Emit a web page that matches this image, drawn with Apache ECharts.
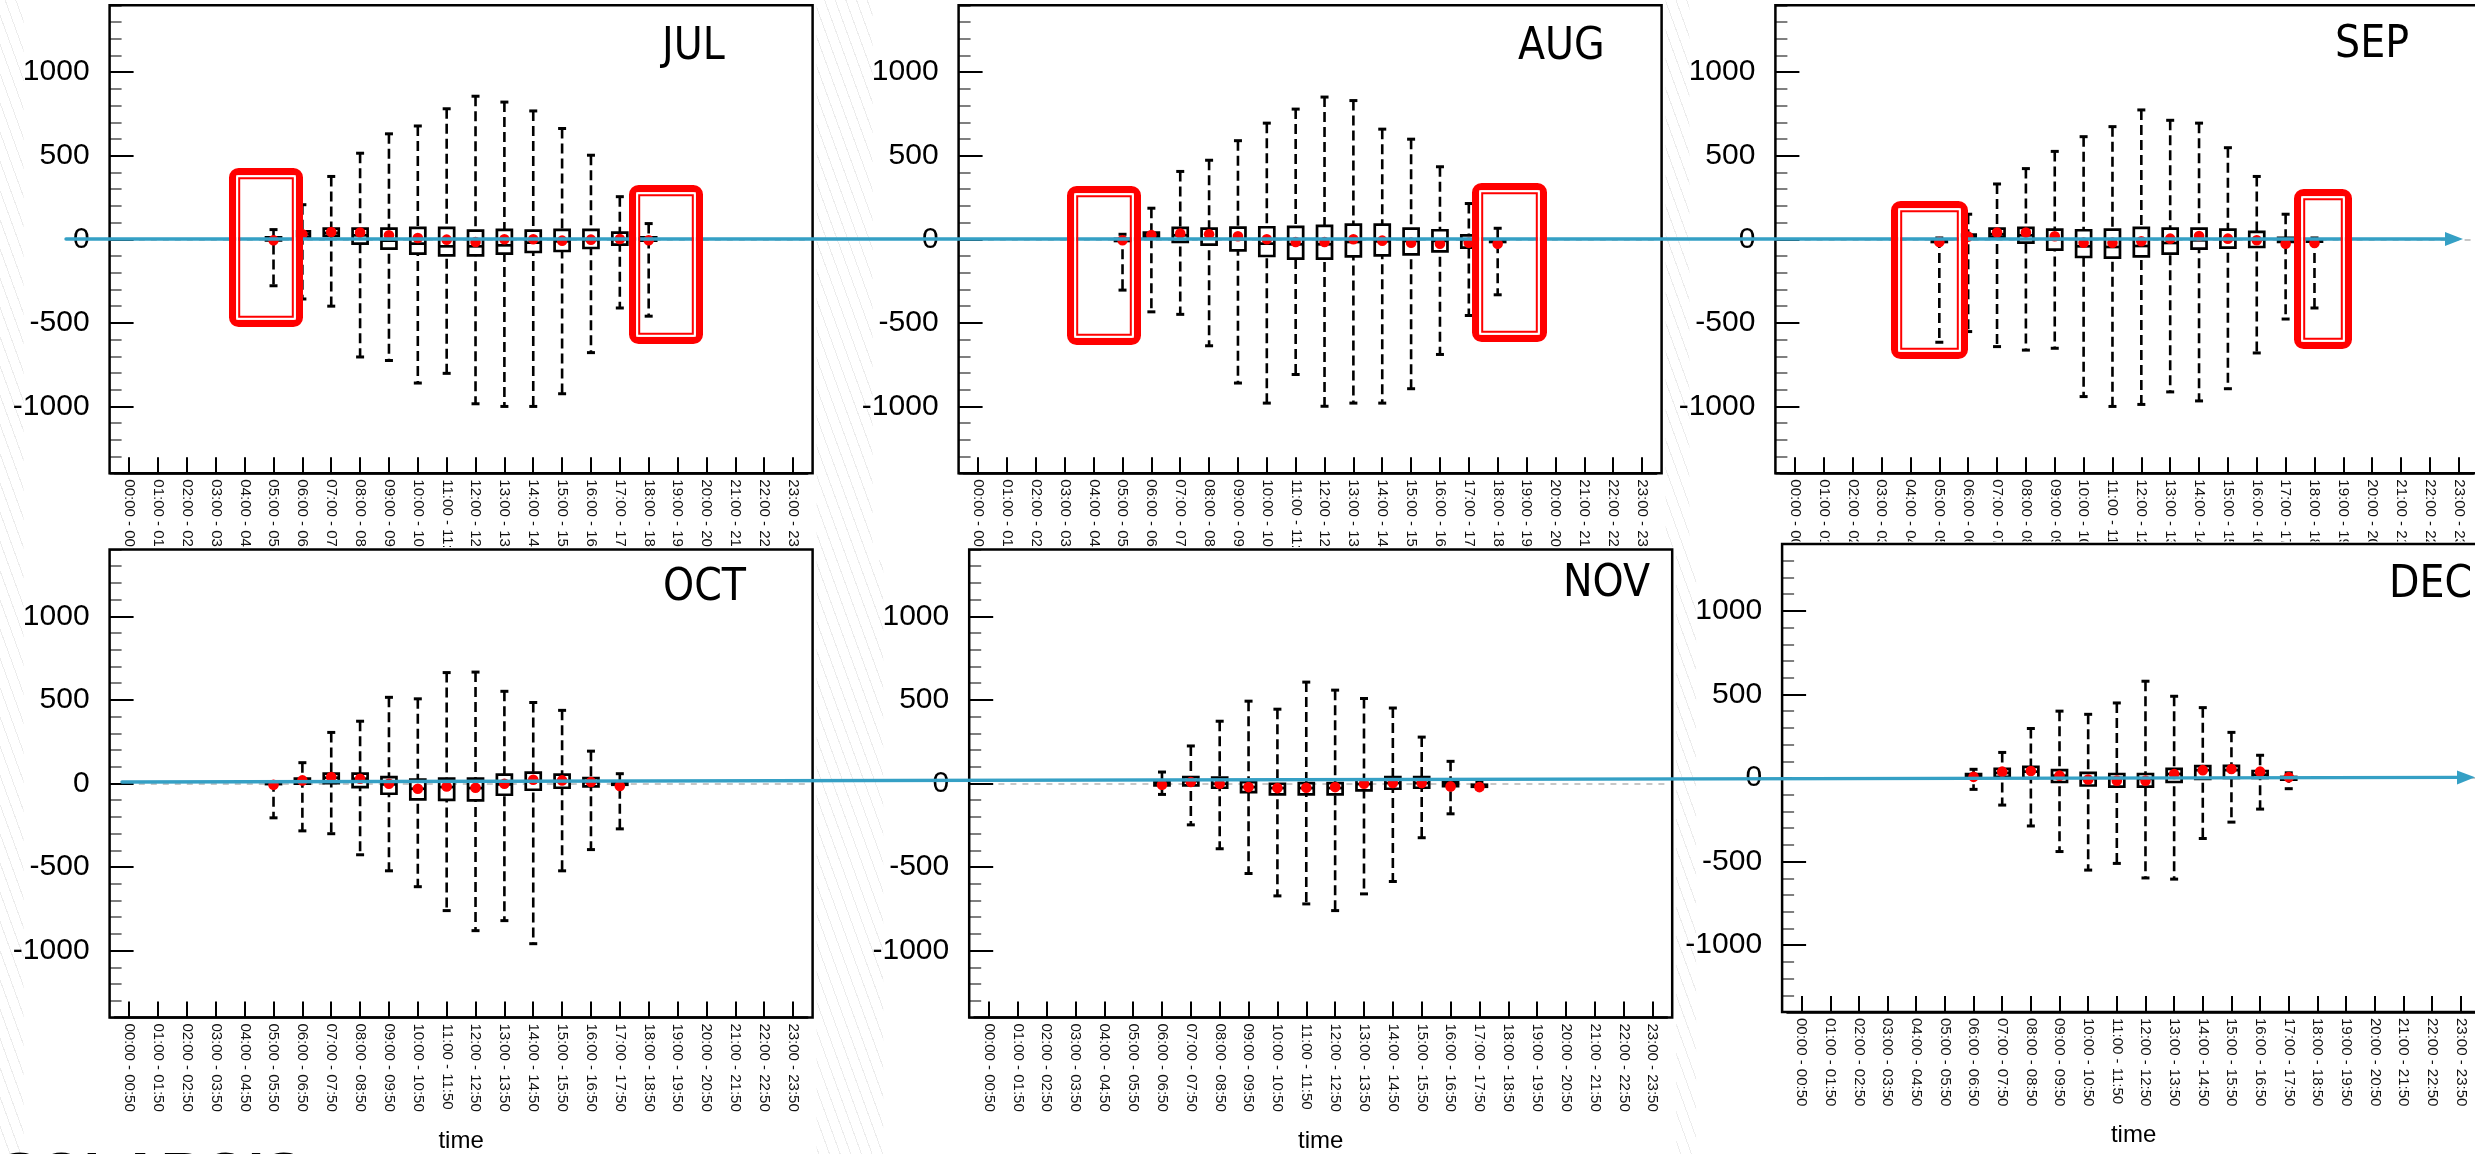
<!DOCTYPE html>
<html><head><meta charset="utf-8">
<script src="https://cdn.jsdelivr.net/npm/echarts@6/dist/echarts.min.js"></script>
<style>
html,body{margin:0;padding:0;width:2475px;height:1154px;overflow:hidden;background-color:#fff;}
body{background-image:repeating-linear-gradient(70deg, rgba(0,0,0,0) 0px, rgba(0,0,0,0) 9px, #ececec 9px, #ececec 10px);}
#c{width:2475px;height:1154px;}
</style></head><body><div id="c"></div>
<script>
// ---- tick labels / categories ----
const HOUR_LABELS = ['00:00 - 00:50','01:00 - 01:50','02:00 - 02:50','03:00 - 03:50','04:00 - 04:50','05:00 - 05:50',
  '06:00 - 06:50','07:00 - 07:50','08:00 - 08:50','09:00 - 09:50','10:00 - 10:50','11:00 - 11:50',
  '12:00 - 12:50','13:00 - 13:50','14:00 - 14:50','15:00 - 15:50','16:00 - 16:50','17:00 - 17:50',
  '18:00 - 18:50','19:00 - 19:50','20:00 - 20:50','21:00 - 21:50','22:00 - 22:50','23:00 - 23:50'];
const MONTH_NAMES = ['JUL','AUG','SEP','OCT','NOV','DEC'];
const Y_MAJOR = [-1000, -500, 0, 500, 1000];
const X_NAME = 'time';
const LOGO = 'SOLARGIS';

// ---- data rows: [hour, low, q1, median, q3, high, mean] ----
const JUL = [[5,-278,-6,0,12,58,-6],[6,-357,12,30,48,207,30],[7,-400,20,38,64,376,44],[8,-704,-26,24,64,515,40],
  [9,-725,-56,-8,64,631,24],[10,-860,-86,-26,68,678,8],[11,-802,-96,-42,68,781,-2],[12,-984,-96,-42,52,856,-16],
  [13,-1000,-86,-36,56,821,0],[14,-1000,-76,-20,52,768,0],[15,-924,-70,-12,56,663,-8],[16,-678,-52,-4,56,503,-2],
  [17,-411,-32,0,40,255,2],[18,-460,-8,0,12,94,-6]];
const AUG = [[5,-304,-10,-4,2,30,-6],[6,-434,14,26,40,186,26],[7,-449,-16,24,68,406,34],[8,-637,-32,4,64,473,30],
  [9,-860,-66,0,70,590,18],[10,-980,-100,-26,72,695,0],[11,-809,-116,-30,74,779,-16],[12,-999,-116,-30,80,851,-16],
  [13,-980,-102,-16,88,830,0],[14,-980,-96,-12,88,659,-8],[15,-894,-90,-10,64,599,-20],[16,-689,-72,-10,54,434,-26],
  [17,-456,-50,-4,24,214,-20],[18,-332,-16,-8,-2,66,-26]];
const SEP = [[5,-616,-16,-10,-4,8,-16],[6,-552,4,16,28,150,16],[7,-642,14,30,64,331,40],[8,-663,-20,24,68,423,40],
  [9,-652,-62,0,58,526,18],[10,-941,-106,-42,54,614,-20],[11,-1000,-110,-46,58,674,-20],[12,-988,-102,-40,68,774,-12],
  [13,-913,-86,-22,64,712,4],[14,-967,-56,-6,64,695,20],[15,-894,-50,0,58,548,4],[16,-680,-46,0,44,376,-6],
  [17,-477,-16,-4,8,150,-26],[18,-411,-14,-8,-4,8,-22]];
const OCT = [[5,-206,-4,0,4,10,-8],[6,-284,-2,14,28,124,18],[7,-301,2,34,58,305,38],[8,-427,-22,28,58,372,28],
  [9,-523,-62,-6,38,515,-2],[10,-618,-96,-32,22,506,-32],[11,-761,-98,-22,28,663,-18],[12,-881,-102,-28,28,666,-26],
  [13,-821,-68,-6,52,551,-2],[14,-959,-38,14,64,484,22],[15,-523,-26,14,52,437,18],[16,-396,-18,8,32,193,8],
  [17,-272,-8,-4,2,58,-16]];
const NOV = [[6,-66,-12,-2,8,68,-8],[7,-248,-12,14,38,224,8],[8,-391,-26,-2,34,372,-2],[9,-539,-52,-22,8,492,-22],
  [10,-673,-66,-28,-2,444,-28],[11,-721,-66,-28,2,606,-26],[12,-761,-66,-28,2,558,-22],[13,-661,-42,-4,22,508,-2],
  [14,-587,-32,2,38,451,2],[15,-325,-26,2,38,277,2],[16,-182,-16,-4,8,132,-18],[17,-33,-20,-14,-8,10,-22]];
const DEC = [[6,-68,0,10,24,52,7],[7,-162,7,30,54,153,38],[8,-287,0,38,66,296,42],[9,-440,-24,14,47,400,14],
  [10,-551,-45,-5,31,381,-9],[11,-511,-52,0,24,449,-16],[12,-598,-52,-5,24,579,-16],[13,-605,-24,24,54,489,24],
  [14,-362,-5,47,71,421,47],[15,-264,0,47,73,273,54],[16,-186,0,20,42,136,38],[17,-64,-10,-2,6,31,5]];
const MONTH_DATA = [JUL, AUG, SEP, OCT, NOV, DEC];

// ---- layout (pixels) ----
const FW = 703, FH = 468, INSET = 5.2;
const LAYOUT = [
  {fx:109.6, fy:5.3, row:0, tx:662, ty:48},
  {fx:958.6, fy:5.3, row:0, tx:1518, ty:48},
  {fx:1775.4, fy:5.3, row:0, tx:2335, ty:46},
  {fx:109.6, fy:549.4, row:1, tx:663, ty:589},
  {fx:969.2, fy:549.4, row:1, tx:1563, ty:585},
  {fx:1782.1, fy:544, row:1, tx:2389, ty:585.5}
];
const RED_FRAMES = [[229,168,74,159],[629,185,74,159],[1067,186,74,159],[1472,183,75,159],[1891,201,77,158],[2294,189,58,160]];
const BLUE = '#35a0c5';

function renderBox(params, api) {
  const i = api.value(0);
  const lo = api.coord([i, api.value(1)]);
  const q1 = api.coord([i, api.value(2)]);
  const md = api.coord([i, api.value(3)]);
  const q3 = api.coord([i, api.value(4)]);
  const hi = api.coord([i, api.value(5)]);
  const mn = api.coord([i, api.value(6)]);
  const x = lo[0], bw = 15, cw = 8;
  return {type:'group', children:[
    {type:'line', shape:{x1:x,y1:hi[1],x2:x,y2:lo[1]}, style:{stroke:'#000',lineWidth:2.6,lineDash:[10,5]}},
    {type:'line', shape:{x1:x-cw/2,y1:hi[1],x2:x+cw/2,y2:hi[1]}, style:{stroke:'#000',lineWidth:3}},
    {type:'line', shape:{x1:x-cw/2,y1:lo[1],x2:x+cw/2,y2:lo[1]}, style:{stroke:'#000',lineWidth:3}},
    {type:'rect', shape:{x:x-bw/2,y:q3[1],width:bw,height:q1[1]-q3[1]}, style:{fill:'#fff',stroke:'#000',lineWidth:2.7}},
    {type:'line', shape:{x1:x-bw/2,y1:md[1],x2:x+bw/2,y2:md[1]}, style:{stroke:'#000',lineWidth:2.7}},
    {type:'circle', shape:{cx:x,cy:mn[1],r:5.3}, style:{fill:'#ff0000'}}
  ]};
}

const grid = [], xAxis = [], yAxis = [], series = [], graphic = [];
LAYOUT.forEach((L, k) => {
  const zb = L.row === 0 ? 1 : 10;
  grid.push({left: L.fx + INSET, top: L.fy, width: FW - 2*INSET, height: FH, show:false, z: zb+1});
  xAxis.push({type:'category', gridIndex:k, data: HOUR_LABELS, boundaryGap:true, position:'bottom', z: zb+1,
    axisLine:{show:true, onZero:false, lineStyle:{color:'#000', width:2.5}},
    axisTick:{show:true, inside:true, alignWithLabel:true, length:16, lineStyle:{color:'#000', width:2}},
    axisLabel:{interval:0, rotate:-90, margin:6, fontSize:15, color:'#111', fontFamily:'"Liberation Sans", Arial, sans-serif'},
    splitLine:{show:false}});
  yAxis.push({type:'value', gridIndex:k, min:-1400, max:1400, interval:100, position:'left', offset:INSET, z: zb+1,
    axisLine:{show:false, onZero:false}, axisLabel:{show:false}, splitLine:{show:false},
    axisTick:{show:true, inside:true, length:12, lineStyle:{color:'#555', width:1.5}}});
  yAxis.push({type:'value', gridIndex:k, min:-1400, max:1400, position:'left', offset:INSET, z: zb+1,
    axisLine:{show:false, onZero:false}, splitLine:{show:false},
    axisTick:{show:true, inside:true, length:24, customValues: Y_MAJOR, lineStyle:{color:'#000', width:2}},
    axisLabel:{show:true, customValues: Y_MAJOR, formatter: v => String(v), margin:20, fontSize:30, color:'#000', fontFamily:'"Liberation Sans", Arial, sans-serif'}});
  series.push({type:'custom', xAxisIndex:k, yAxisIndex:2*k, z: zb+2, renderItem: renderBox,
    encode:{x:0, y:[1,2,3,4,5,6]}, data: MONTH_DATA[k], silent:true,
    markLine:{silent:true, symbol:'none', label:{show:false}, z: zb+1,
      lineStyle:{color:'#b5b5b5', width:1.5, type:[6,6]}, data:[{yAxis:0}]}});
  // panel white background
  const bgTop = L.row === 0 ? 0 : L.fy - 2.5;
  const bgBot = L.row === 0 ? 560 : 1154;
  graphic.push({type:'rect', z: zb, silent:true, shape:{x:L.fx-86, y:bgTop, width:FW+90, height:bgBot-bgTop}, style:{fill:'#fff'}});
  // frame
  graphic.push({type:'rect', z: zb+3, silent:true, shape:{x:L.fx, y:L.fy, width:FW, height:FH}, style:{fill:null, stroke:'#000', lineWidth:2.5}});
  // month title
  graphic.push({type:'text', z: zb+4, silent:true, x:L.tx, y:L.ty,
    style:{text: MONTH_NAMES[k], font:'44px "Liberation Sans Narrow", "DejaVu Sans Condensed", sans-serif', fill:'#000', textAlign:'left', textVerticalAlign:'middle'}});
  if (L.row === 1) {
    graphic.push({type:'text', z: zb+4, silent:true, x:L.fx + FW/2, y:L.fy + FH + 123.5,
      style:{text: X_NAME, font:'24px "Liberation Sans", Arial, sans-serif', fill:'#000', textAlign:'center', textVerticalAlign:'middle'}});
  }
});

// blue annotation arrows
graphic.push({type:'line', z:19, silent:true, shape:{x1:66,y1:239,x2:2447,y2:239}, style:{stroke:BLUE, lineWidth:3.4, lineCap:'round'}});
graphic.push({type:'polygon', z:19, silent:true, shape:{points:[[2445,232],[2463,239],[2445,246]]}, style:{fill:BLUE}});
graphic.push({type:'line', z:19, silent:true, shape:{x1:122,y1:782,x2:2459,y2:777.4}, style:{stroke:BLUE, lineWidth:3.4, lineCap:'round'}});
graphic.push({type:'polygon', z:19, silent:true, shape:{points:[[2457,770.4],[2475,777.3],[2457,784.4]]}, style:{fill:BLUE}});

// red highlight frames
RED_FRAMES.forEach(r => {
  const [x,y,w,h] = r;
  graphic.push({type:'rect', z:20, silent:true, shape:{x:x+3.6,y:y+3.6,width:w-7.2,height:h-7.2,r:6}, style:{fill:null, stroke:'#ff0000', lineWidth:7.2}});
  graphic.push({type:'rect', z:20, silent:true, shape:{x:x+8.2,y:y+8.2,width:w-16.4,height:h-16.4}, style:{fill:null, stroke:'#ffffff', lineWidth:2}});
  graphic.push({type:'rect', z:20, silent:true, shape:{x:x+10.2,y:y+10.2,width:w-20.4,height:h-20.4}, style:{fill:null, stroke:'#ff0000', lineWidth:2}});
});

// partially visible logo at bottom-left (only its top edge is on the page)
graphic.push({type:'text', z:20, silent:true, x:0, y:1148,
  style:{text: LOGO, font:'bold 58px "Liberation Sans", Arial, sans-serif',
    fill: new echarts.graphic.LinearGradient(0,0,1,0,[{offset:0,color:'#2a94d6'},{offset:0.45,color:'#1f74c0'},{offset:1,color:'#0f3f8c'}]),
    textAlign:'left', textVerticalAlign:'top'}});

const chart = echarts.init(document.getElementById('c'), null, {renderer:'canvas'});
chart.setOption({animation:false, backgroundColor:'transparent', grid, xAxis, yAxis, series, graphic});
</script></body></html>
